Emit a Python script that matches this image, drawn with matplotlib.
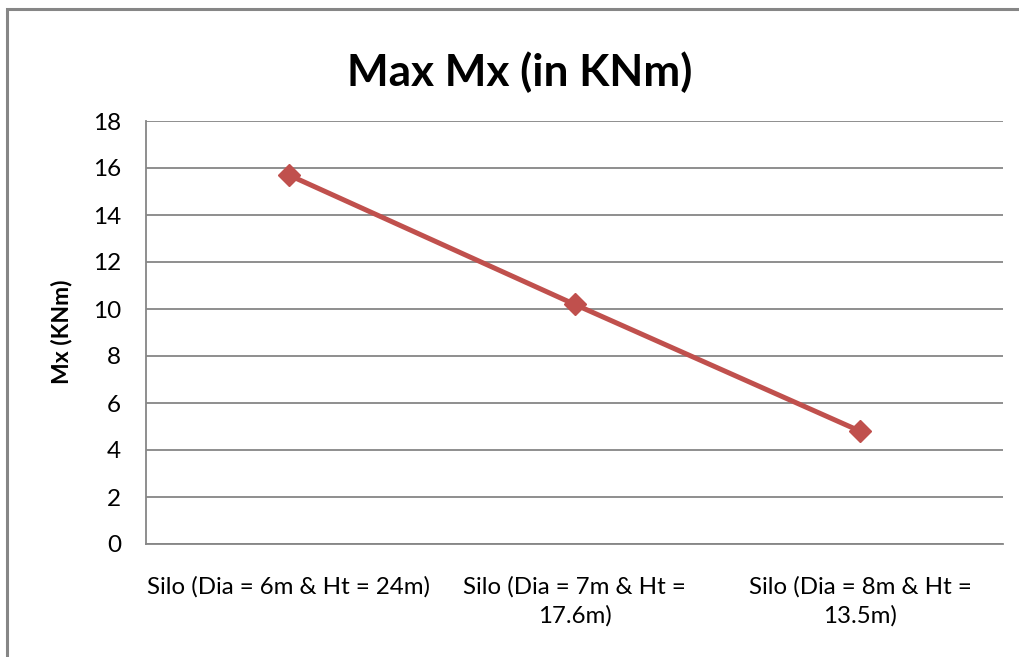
import matplotlib.pyplot as plt
from matplotlib.patches import Rectangle

categories = ['Silo (Dia = 6m & Ht = 24m)',
              'Silo (Dia = 7m & Ht =\n17.6m)',
              'Silo (Dia = 8m & Ht =\n13.5m)']
max_mx = [15.7, 10.2, 4.8]
y_ticks = [0, 2, 4, 6, 8, 10, 12, 14, 16, 18]

plt.rcParams['font.family'] = ['Lato', 'DejaVu Sans']

fig = plt.figure(figsize=(10.19, 6.57), dpi=100)
ax = fig.add_axes([146 / 1019, 1 - 544 / 657, 857 / 1019, 423 / 657])

# outer chart border (runs off the right and bottom edges)
fig.patches.append(Rectangle((7 / 1019, -0.05), 1.1, 1 - 9 / 657 + 0.05,
                             transform=fig.transFigure, fill=False,
                             edgecolor='#868686', linewidth=2.2))

x = range(len(categories))
ax.plot(x, max_mx, color='#C0504D', linewidth=3.6, marker='D',
        markersize=11, markeredgecolor='#C0504D')

ax.set_xlim(-0.5, len(categories) - 0.5)
ax.set_ylim(0, 18)
ax.set_yticks(y_ticks)
ax.set_xticks(list(x))
ax.set_xticklabels(categories, fontsize=17.3, linespacing=1.45)
ax.tick_params(axis='y', labelsize=17.5, length=0, pad=18)
ax.tick_params(axis='x', length=0, pad=23)
ax.yaxis.grid(True, color='#868686', linewidth=1.3)
ax.set_axisbelow(True)

for side in ['top', 'right']:
    ax.spines[side].set_visible(False)
for side in ['left', 'bottom']:
    ax.spines[side].set_color('#868686')
    ax.spines[side].set_linewidth(1.3)

fig.text(62 / 1019, 1 - 332 / 657, 'Mx (KNm)', fontsize=16.5,
         fontweight='bold', rotation=90, ha='center', va='center')
fig.text(520 / 1019, 1 - 72 / 657, 'Max Mx (in KNm)', fontsize=31.8,
         fontweight='bold', ha='center', va='center')

fig.savefig('out.png', dpi=100)
